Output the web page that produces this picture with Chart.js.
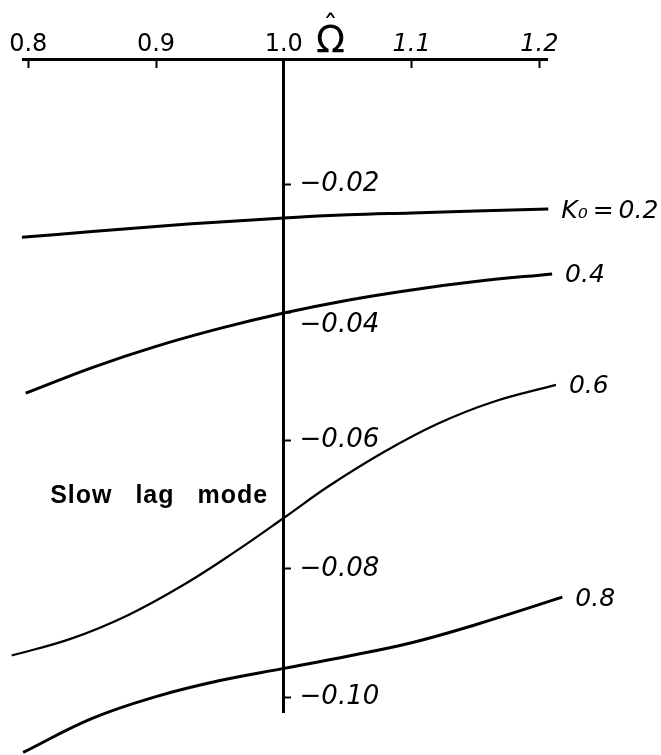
<!DOCTYPE html>
<html>
<head>
<meta charset="utf-8">
<title>Slow lag mode damping vs. rotor speed</title>
<script src="https://cdn.jsdelivr.net/npm/chart.js@4/dist/chart.umd.min.js"></script>
<style>
  html, body { margin: 0; padding: 0; background: #ffffff; }
  #wrap { width: 661px; height: 755px; }
</style>
</head>
<body>
<div id="wrap"><canvas id="chart" width="661" height="755"></canvas></div>
<script>
// Rotor speed (Omega hat) and damping of the slow lag mode for each K0
const omegaK02 = [0.795, 0.85, 0.9, 0.95, 1.0, 1.05, 1.1, 1.15, 1.207];
const dampK02  = [-0.0283, -0.0274, -0.0266, -0.0259, -0.0253, -0.0248, -0.0245, -0.0242, -0.0239];

const omegaK04 = [0.798, 0.85, 0.9, 0.95, 1.0, 1.05, 1.1, 1.15, 1.21];
const dampK04  = [-0.0526, -0.0486, -0.0453, -0.0425, -0.0401, -0.0381, -0.0365, -0.0352, -0.0340];

const omegaK06 = [0.787, 0.833, 0.878, 0.923, 0.962, 1.001, 1.035, 1.078, 1.12, 1.163, 1.213];
const dampK06  = [-0.0935, -0.0909, -0.0872, -0.0823, -0.0773, -0.0719, -0.0671, -0.0618, -0.0574, -0.0540, -0.0513];

const omegaK08 = [0.796, 0.85, 0.9, 0.95, 1.0, 1.05, 1.1, 1.15, 1.218];
const dampK08  = [-0.1086, -0.1033, -0.0999, -0.0974, -0.0955, -0.0936, -0.0915, -0.0887, -0.0844];

const curveLabels = ['K\u2080 = 0.2', '0.4', '0.6', '0.8'];

const omegaTicks = [0.8, 0.9, 1.0, 1.1, 1.2];
const omegaTickLabels = ['0.8', '0.9', '1.0', '1.1', '1.2'];

const dampTicks = [-0.02, -0.04, -0.06, -0.08, -0.10];
const dampTickLabels = ['\u22120.02', '\u22120.04', '\u22120.06', '\u22120.08', '\u22120.10'];

const axisSymbol = '\u03A9';
const axisHat = '\u02C6';
const modeTitle = 'Slow lag mode';

const HAND = '"DejaVu Sans", sans-serif';
const DAMP_MIN = -0.1023;
const DAMP_MAX = -0.0005;

function toPoints(xs, ys) {
  return xs.map((x, i) => ({ x: x, y: ys[i] }));
}

function curve(label, xs, ys, width) {
  return {
    label: label,
    data: toPoints(xs, ys),
    borderColor: '#000',
    borderWidth: width,
    pointRadius: 0,
    tension: 0.4,
    fill: false,
    clip: false
  };
}

// Writes each K0 value just past the right end of its curve
const curveLabelPlugin = {
  id: 'curveLabels',
  afterDatasetsDraw(chart) {
    const ctx = chart.ctx;
    ctx.save();
    ctx.fillStyle = '#000';
    ctx.font = 'italic 25px ' + HAND;
    ctx.textAlign = 'left';
    ctx.textBaseline = 'middle';
    if ('wordSpacing' in ctx) ctx.wordSpacing = '-3px';
    chart.data.datasets.forEach((ds, i) => {
      const pts = chart.getDatasetMeta(i).data;
      const last = pts[pts.length - 1];
      ctx.fillText(ds.label, last.x + 13, last.y + 2);
    });
    ctx.restore();
  }
};

// Axis symbol above the speed axis and the mode caption
const captionPlugin = {
  id: 'captions',
  afterDraw(chart) {
    const ctx = chart.ctx;
    const xs = chart.scales.x;
    const ys = chart.scales.y;
    const cx = xs.getPixelForValue(1.0366);
    ctx.save();
    ctx.fillStyle = '#000';
    ctx.textAlign = 'center';
    ctx.textBaseline = 'alphabetic';

    ctx.font = '38px ' + HAND;
    ctx.fillText(axisSymbol, cx, chart.chartArea.top - 7);
    ctx.font = '30px ' + HAND;
    ctx.fillText(axisHat, cx, chart.chartArea.top - 22);

    ctx.font = 'bold 25px "Liberation Sans", Arial, sans-serif';
    ctx.textAlign = 'left';
    if ('letterSpacing' in ctx) ctx.letterSpacing = '1px';
    if ('wordSpacing' in ctx) ctx.wordSpacing = '15px';
    ctx.fillText(modeTitle, xs.getPixelForValue(0.8171), ys.getPixelForValue(-0.0697));
    ctx.restore();
  }
};

const dampTickSet = (scale) => { scale.ticks = dampTicks.map(v => ({ value: v })); };

new Chart(document.getElementById('chart'), {
  type: 'line',
  data: {
    datasets: [
      curve(curveLabels[0], omegaK02, dampK02, 3),
      curve(curveLabels[1], omegaK04, dampK04, 3),
      curve(curveLabels[2], omegaK06, dampK06, 2.2),
      curve(curveLabels[3], omegaK08, dampK08, 3)
    ]
  },
  options: {
    responsive: false,
    animation: false,
    devicePixelRatio: 1,
    events: [],
    layout: { padding: { left: 20, right: 114, top: 27, bottom: 43 } },
    plugins: {
      legend: { display: false },
      tooltip: { enabled: false },
      title: { display: false }
    },
    scales: {
      x: {
        type: 'linear',
        position: 'top',
        min: 0.796,
        max: 1.206,
        afterBuildTicks(scale) {
          scale.ticks = omegaTicks.map(v => ({ value: v }));
        },
        afterFit(scale) { scale.height = 32; },
        border: { display: true, color: '#000', width: 3 },
        grid: {
          drawOnChartArea: false,
          drawTicks: true,
          tickLength: -9,
          tickWidth: 2,
          tickColor: '#000'
        },
        ticks: {
          color: '#000',
          padding: 9,
          maxRotation: 0,
          autoSkip: false,
          font: (c) => ({ family: HAND, size: 24, style: c.index >= 3 ? 'italic' : 'normal' }),
          callback: (value, index) => omegaTickLabels[index]
        }
      },
      // damping axis line with its tick marks, crossing the speed axis at 1.0
      y: {
        type: 'linear',
        position: { x: 1.0 },
        min: DAMP_MIN,
        max: DAMP_MAX,
        afterBuildTicks: dampTickSet,
        border: { display: true, color: '#000', width: 3 },
        grid: {
          drawOnChartArea: false,
          drawTicks: true,
          tickLength: -9,
          tickWidth: 2,
          tickColor: '#000'
        },
        ticks: { display: false }
      },
      // damping tick labels, set to the right of the axis line
      yLabels: {
        type: 'linear',
        axis: 'y',
        position: { x: 1.0747 },
        min: DAMP_MIN,
        max: DAMP_MAX,
        afterBuildTicks: dampTickSet,
        border: { display: false },
        grid: { display: false },
        ticks: {
          color: '#000',
          padding: 0,
          autoSkip: false,
          font: { family: HAND, size: 26, style: 'italic', lineHeight: 1.0 },
          // the −0.04 label drops one line to clear the K0 = 0.4 curve
          callback: (value, index) => index === 1 ? ['', dampTickLabels[index]] : dampTickLabels[index]
        }
      }
    }
  },
  plugins: [curveLabelPlugin, captionPlugin]
});
</script>
</body>
</html>
